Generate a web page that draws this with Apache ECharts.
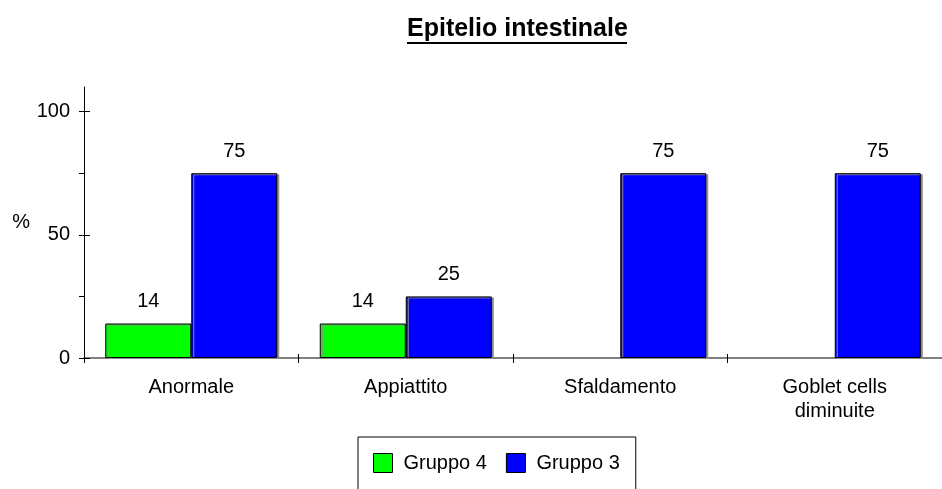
<!DOCTYPE html>
<html>
<head>
<meta charset="utf-8">
<script src="https://cdn.jsdelivr.net/npm/echarts@6/dist/echarts.min.js"></script>
<style>
  html, body { margin: 0; padding: 0; background: #fff; }
  #main { width: 942px; height: 489px; }
</style>
</head>
<body>
<div id="main"></div>
<script>
const categories = ['Anormale', 'Appiattito', 'Sfaldamento', 'Goblet cells\ndiminuite']
const gruppo4 = [14, 14, null, null]
const gruppo3 = [75, 25, 75, 75]
const yLabelValues = [0, 50, 100]
const yTickValues = [0, 25, 50, 75, 100]

const font = '"Liberation Sans", Arial, sans-serif'
const chart = echarts.init(document.getElementById('main'))

const barSeries = (name, data, color) => ({
  name: name,
  type: 'bar',
  data: data,
  barWidth: 86,
  barGap: 0,
  itemStyle: {
    color: color,
    borderColor: '#000',
    borderWidth: 1,
    shadowColor: '#8c8c8c',
    shadowOffsetX: 2,
    shadowOffsetY: 1,
    shadowBlur: 0
  },
  label: {
    show: true,
    position: 'top',
    distance: 12,
    color: '#000',
    fontSize: 20,
    fontFamily: font
  }
})

chart.setOption({
  animation: false,
  title: {
    text: 'Epitelio intestinale',
    left: 407,
    top: 17,
    padding: 0,
    textStyle: {
      color: '#000',
      fontSize: 25,
      fontWeight: 'bold',
      fontFamily: font
    }
  },
  // sottolineatura del titolo
  graphic: [{
    type: 'line',
    shape: { x1: 407, y1: 43, x2: 627, y2: 43 },
    style: { stroke: '#000', lineWidth: 2 }
  }],
  legend: {
    left: 358,
    top: 437,
    padding: [16, 16, 17, 15],
    borderColor: '#000',
    borderWidth: 1,
    itemWidth: 19,
    itemHeight: 19,
    itemGap: 19,
    icon: 'rect',
    itemStyle: { borderColor: '#000', borderWidth: 1, shadowBlur: 0, shadowOffsetX: 0, shadowOffsetY: 0 },
    textStyle: {
      color: '#000',
      fontSize: 20,
      fontFamily: font,
      padding: [0, 0, 0, 6]
    },
    data: ['Gruppo 4', 'Gruppo 3']
  },
  grid: {
    left: 84,
    right: -8,
    top: 87,
    bottom: 131,
    containLabel: false
  },
  xAxis: [
    {
      type: 'category',
      data: categories,
      axisLine: { lineStyle: { color: '#555', width: 1.5 } },
      axisTick: { show: true, length: 5, lineStyle: { color: '#000' } },
      axisLabel: {
        color: '#000',
        fontSize: 20,
        fontFamily: font,
        margin: 17,
        lineHeight: 24,
        interval: 0
      }
    },
    {
      type: 'category',
      data: categories,
      position: 'bottom',
      axisLine: { show: false },
      axisTick: { show: true, inside: true, length: 4, lineStyle: { color: '#000' } },
      axisLabel: { show: false }
    }
  ],
  yAxis: [
    {
      type: 'value',
      min: 0,
      max: 110,
      name: '%',
      nameLocation: 'middle',
      nameRotate: 0,
      nameGap: 54,
      nameTextStyle: { color: '#000', fontSize: 20, fontFamily: font },
      axisLine: { show: true, lineStyle: { color: '#000' } },
      axisTick: { show: true, length: 5, customValues: yTickValues, lineStyle: { color: '#000' } },
      axisLabel: {
        color: '#000',
        fontSize: 20,
        fontFamily: font,
        margin: 14,
        customValues: yLabelValues
      },
      splitLine: { show: false }
    },
    {
      type: 'value',
      min: 0,
      max: 110,
      position: 'left',
      axisLine: { show: false },
      axisTick: { show: true, inside: true, length: 6, customValues: yLabelValues, lineStyle: { color: '#000' } },
      axisLabel: { show: false },
      splitLine: { show: false }
    }
  ],
  series: [
    barSeries('Gruppo 4', gruppo4, '#00ff00'),
    barSeries('Gruppo 3', gruppo3, '#0000ff')
  ]
})
</script>
</body>
</html>
